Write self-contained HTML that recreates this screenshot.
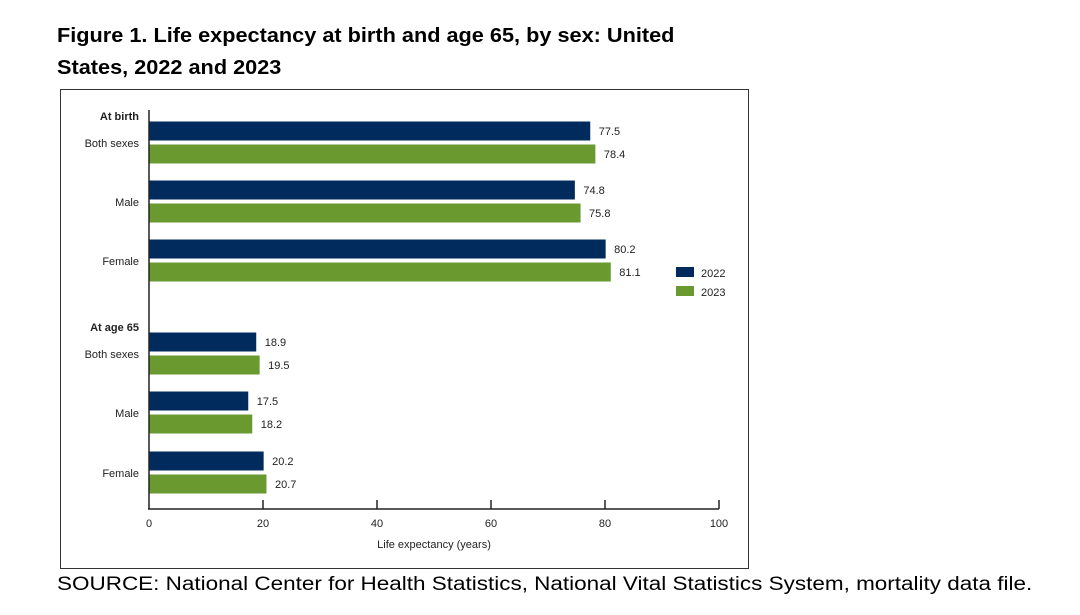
<!DOCTYPE html>
<html><head><meta charset="utf-8"><style>
body{margin:0;background:#fff;width:1080px;height:615px;overflow:hidden;font-family:"Liberation Sans",Arial,sans-serif}
.t{position:absolute;left:57px;font-weight:bold;font-size:20px;color:#000;transform:scaleX(1.085);transform-origin:0 0;white-space:nowrap}
</style></head><body>
<div class="t" style="top:25px">Figure 1. Life expectancy at birth and age 65, by sex: United</div>
<div class="t" style="top:57px">States, 2022 and 2023</div>
<div style="position:absolute;left:57px;top:574px;font-size:19px;color:#000;transform:scaleX(1.183);transform-origin:0 0;white-space:nowrap">SOURCE: National Center for Health Statistics, National Vital Statistics System, mortality data file.</div>
<svg id="c" width="1080" height="615" style="position:absolute;left:0;top:0" xmlns="http://www.w3.org/2000/svg">
<rect x="60.5" y="89.5" width="688" height="479" fill="none" stroke="#333" stroke-width="1"/>
</svg>
<script>
const categories=["Both sexes","Male","Female","Both sexes","Male","Female"];
const groups=["At birth","At age 65"];
const s2022=[77.5,74.8,80.2,18.9,17.5,20.2];
const s2023=[78.4,75.8,81.1,19.5,18.2,20.7];
const ticks=[0,20,40,60,80,100];
const ns="http://www.w3.org/2000/svg";
const svg=document.getElementById('c');
const x=v=>149+v*5.7;
const rowY=[121,180,239,332,391,451];
function mk(t,a,txt){const e=document.createElementNS(ns,t);for(const k in a)e.setAttribute(k,a[k]);if(txt!==undefined)e.textContent=txt;svg.appendChild(e);return e;}
const F='"Liberation Sans",Arial,sans-serif';
categories.forEach((c,i)=>{
  const y=rowY[i];
  let b=mk('rect',{x:149,y:y,width:x(s2022[i])-149,height:20,fill:'#002b5c',stroke:'#fff','stroke-width':1});
  
  
  let g=mk('rect',{x:149,y:y+23,width:x(s2023[i])-149,height:20,fill:'#6a9a2f',stroke:'#fff','stroke-width':1});
  
  
  let l1=mk('text',{x:x(s2022[i])+8,y:y+14,'font-size':11,'font-family':F,fill:'#222'},s2022[i].toFixed(1));
  
  
  let l2=mk('text',{x:x(s2023[i])+8,y:y+37,'font-size':11,'font-family':F,fill:'#222'},s2023[i].toFixed(1));
  
  
  let cl=mk('text',{x:139,y:y+26,'font-size':11,'font-family':F,fill:'#222','text-anchor':'end'},c);
  
  
});
[[groups[0],120],[groups[1],331]].forEach((g,i)=>{
  let t=mk('text',{x:139,y:g[1],'font-size':11,'font-weight':'bold','font-family':F,fill:'#222','text-anchor':'end'},g[0]);
  
  
});
let ya=mk('line',{x1:149,y1:110,x2:149,y2:509,stroke:'#222','stroke-width':1.5});


let xa=mk('line',{x1:148,y1:509,x2:x(100),y2:509,stroke:'#222','stroke-width':1.5});


ticks.forEach(t=>{
  if(t>0){let tk=mk('line',{x1:x(t),y1:500,x2:x(t),y2:509,stroke:'#222','stroke-width':1.5});
  
  }
  let tl=mk('text',{x:x(t),y:527,'font-size':11,'font-family':F,fill:'#222','text-anchor':'middle'},String(t));
  
  
});
let at=mk('text',{x:434,y:548,'font-size':11,'font-family':F,fill:'#222','text-anchor':'middle'},'Life expectancy (years)');


[['2022','#002b5c',267],['2023','#6a9a2f',286]].forEach((l,i)=>{
  let s=mk('rect',{x:676,y:l[2],width:18,height:10,fill:l[1]});
  
  
  let t=mk('text',{x:701,y:l[2]+10,'font-size':11,'font-family':F,fill:'#222'},l[0]);
  
  
});
</script>
</body></html>
